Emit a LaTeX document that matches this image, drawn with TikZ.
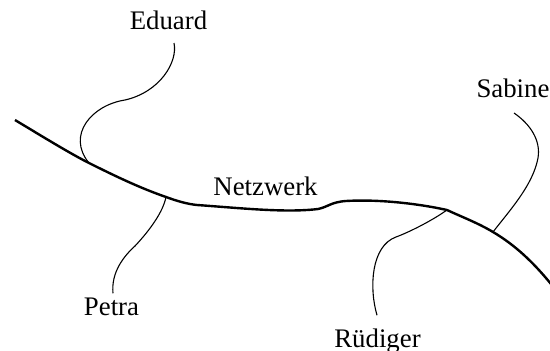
\documentclass[tikz,border=0pt]{standalone}
\usepackage{fontspec}
\setmainfont{Liberation Serif}
\begin{document}
\begin{tikzpicture}[x=1pt,y=-1pt,
  person/.style={font=\fontsize{26.8pt}{32pt}\selectfont, inner sep=0pt},
  netline/.style={line width=2.4pt, line join=round},
  link/.style={line width=1.1pt}]
\clip (0,0) rectangle (550,351);

% names
\node[person, anchor=base] (eduard)   at (168.5,29)  {Eduard};
\node[person, anchor=base] (netz)     at (265.5,195) {Netzwerk};
\node[person, anchor=base] (petra)    at (111.5,315) {Petra};
\node[person, anchor=base] (sabine)   at (513,97)    {Sabine};
\node[person, anchor=base] (ruediger) at (377.5,347) {Rüdiger};

% attachment points on the network line
\coordinate (start)    at (15,120);
\coordinate (j-eduard) at (89,163);
\coordinate (j-petra)  at (166,197);
\coordinate (bend)     at (197,205);
\coordinate (j-rued)   at (447,210);
\coordinate (j-sabine) at (493,232);
\coordinate (finish)   at (551,284);

% the network
\draw[netline] (start)
  .. controls (40,135) and (70,153.5) .. (j-eduard)
  .. controls (115,176) and (140,188) .. (j-petra)
  .. controls (177,201) and (187,204) .. (bend)
  .. controls (240,208) and (285,213) .. (318,209)
  .. controls (328,207) and (331,202) .. (346,201)
  .. controls (380,199) and (420,204) .. (j-rued)
  .. controls (462,217) and (478,223) .. (j-sabine)
  .. controls (515,245) and (533,262) .. (finish);

% connections of the persons
\draw[link] ([xshift=5.5pt,yshift=-14pt]eduard.base)
  .. controls (178,62) and (160,92) .. (125,100)
  .. controls (92,105) and (66,135) .. (j-eduard);
\draw[link] ([xshift=1.5pt,yshift=4pt]petra.north)
  .. controls (111,272) and (124,256) .. (135,246)
  .. controls (150,230) and (163,212) .. (j-petra);
\draw[link] ([xshift=1pt,yshift=-16pt]sabine.base)
  .. controls (530,124) and (541,140) .. (538,158)
  .. controls (533,185) and (510,210) .. (j-sabine);
\draw[link] ([xshift=-0.5pt,yshift=13pt]ruediger.north)
  .. controls (369,288) and (371,246) .. (396,237)
  .. controls (407,233) and (430,222) .. (j-rued);
\end{tikzpicture}
\end{document}
